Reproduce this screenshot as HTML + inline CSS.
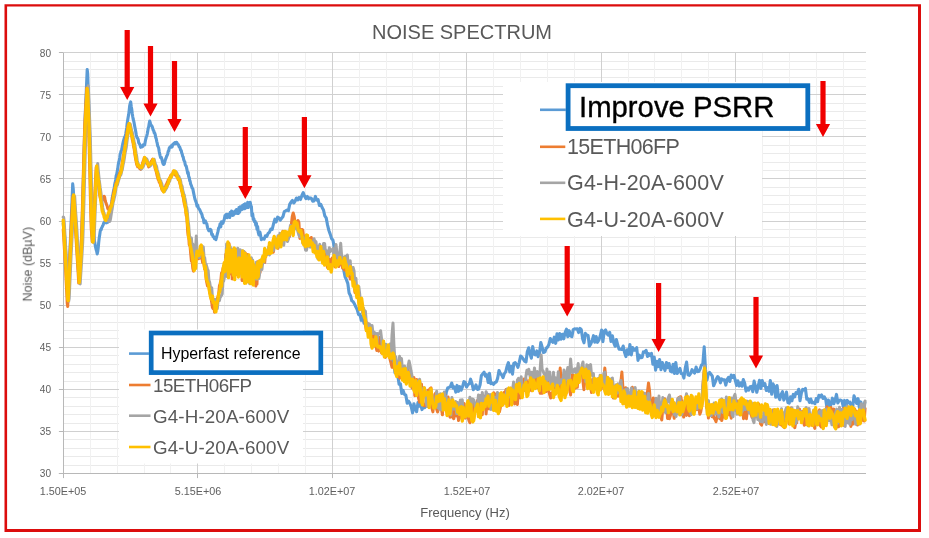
<!DOCTYPE html>
<html><head><meta charset="utf-8"><title>Noise Spectrum</title>
<style>
html,body{margin:0;padding:0;background:#fff;}
body{width:929px;height:538px;position:relative;overflow:hidden;font-family:"Liberation Sans",sans-serif;color:#595959;}
.frame{position:absolute;left:4.5px;top:4.3px;width:911.5px;height:522.5px;border:2.6px solid #e41a1c;box-sizing:content-box;}
.t{position:absolute;white-space:nowrap;line-height:1;will-change:transform;}
.yl{font-size:10.1px;width:20px;text-align:right;left:31px;color:#606060;}
.xl{font-size:10.8px;width:80px;text-align:center;top:485.6px;color:#606060;}
.lg1{font-size:21.5px;left:567.4px;color:#595959;}
.lg2{font-size:18.8px;left:153px;color:#595959;}
.box{position:absolute;box-sizing:border-box;border:4.2px solid #0b6fc0;background:#fff;color:#000;}
</style></head><body>
<svg width="929" height="538" viewBox="0 0 929 538" style="position:absolute;left:0;top:0">
<path d="M4.5 4.2H921V532H4.5ZM7.1 6.6V529H918V6.6Z" fill="#dc0d0d" fill-rule="evenodd"/>
<path d="M63.4 61.50H866.0M63.4 69.50H866.0M63.4 77.50H866.0M63.4 86.50H866.0M63.4 103.50H866.0M63.4 111.50H866.0M63.4 120.50H866.0M63.4 128.50H866.0M63.4 145.50H866.0M63.4 153.50H866.0M63.4 162.50H866.0M63.4 170.50H866.0M63.4 187.50H866.0M63.4 195.50H866.0M63.4 204.50H866.0M63.4 212.50H866.0M63.4 229.50H866.0M63.4 237.50H866.0M63.4 246.50H866.0M63.4 254.50H866.0M63.4 271.50H866.0M63.4 279.50H866.0M63.4 288.50H866.0M63.4 296.50H866.0M63.4 313.50H866.0M63.4 322.50H866.0M63.4 330.50H866.0M63.4 338.50H866.0M63.4 355.50H866.0M63.4 364.50H866.0M63.4 372.50H866.0M63.4 381.50H866.0M63.4 397.50H866.0M63.4 406.50H866.0M63.4 414.50H866.0M63.4 423.50H866.0M63.4 439.50H866.0M63.4 448.50H866.0M63.4 456.50H866.0M63.4 465.50H866.0" stroke="#eaeaea" stroke-width="1" fill="none"/>
<path d="M90.50 52.7V473.6M117.50 52.7V473.6M144.50 52.7V473.6M170.50 52.7V473.6M224.50 52.7V473.6M251.50 52.7V473.6M278.50 52.7V473.6M305.50 52.7V473.6M359.50 52.7V473.6M386.50 52.7V473.6M412.50 52.7V473.6M439.50 52.7V473.6M493.50 52.7V473.6M520.50 52.7V473.6M547.50 52.7V473.6M574.50 52.7V473.6M628.50 52.7V473.6M654.50 52.7V473.6M681.50 52.7V473.6M708.50 52.7V473.6M762.50 52.7V473.6M789.50 52.7V473.6M816.50 52.7V473.6M843.50 52.7V473.6" stroke="#f1f1f1" stroke-width="1" fill="none"/>
<path d="M63.4 52.50H866.0M63.4 94.50H866.0M63.4 136.50H866.0M63.4 178.50H866.0M63.4 221.50H866.0M63.4 263.50H866.0M63.4 305.50H866.0M63.4 347.50H866.0M63.4 389.50H866.0M63.4 431.50H866.0M197.50 52.7V473.6M332.50 52.7V473.6M466.50 52.7V473.6M601.50 52.7V473.6M735.50 52.7V473.6" stroke="#d0d0d0" stroke-width="1" fill="none"/>
<path d="M63.5 52.7V478.1M58.9 473.5H866.0M58.9 52.50H63.4M58.9 94.50H63.4M58.9 136.50H63.4M58.9 178.50H63.4M58.9 221.50H63.4M58.9 263.50H63.4M58.9 305.50H63.4M58.9 347.50H63.4M58.9 389.50H63.4M58.9 431.50H63.4M58.9 473.50H63.4M197.50 473.6V478.1M332.50 473.6V478.1M466.50 473.6V478.1M601.50 473.6V478.1M735.50 473.6V478.1" stroke="#b8b8b8" stroke-width="1" fill="none"/>
<path d="M63.2 223.6 L63.7 228.6 L64.2 232.1 L64.7 236.9 L65.2 243.4 L65.7 253.3 L66.2 263.4 L66.7 273.7 L67.2 283.8 L67.7 294.0 L68.2 294.9 L68.7 282.8 L69.2 269.6 L69.7 258.0 L70.2 244.5 L70.7 233.2 L71.2 220.7 L71.7 208.8 L72.2 196.0 L72.7 183.8 L73.2 188.4 L73.7 196.3 L74.2 202.8 L74.7 210.8 L75.2 218.9 L75.7 227.1 L76.2 233.9 L76.7 241.8 L77.2 250.1 L77.7 259.4 L78.2 266.4 L78.7 274.9 L79.2 277.4 L79.7 268.5 L80.2 260.3 L80.7 251.4 L81.2 243.6 L81.7 235.6 L82.2 221.9 L82.7 204.6 L83.2 186.9 L83.7 168.2 L84.2 149.0 L84.7 131.4 L85.2 114.9 L85.7 103.9 L86.2 93.4 L86.7 81.1 L87.2 69.6 L87.7 74.0 L88.2 89.1 L88.7 105.6 L89.2 120.3 L89.7 136.7 L90.2 155.1 L90.7 172.4 L91.2 191.2 L91.7 208.6 L92.2 221.7 L92.7 226.2 L93.2 229.4 L93.7 233.9 L94.2 238.6 L94.7 242.4 L95.2 245.0 L95.7 247.6 L96.2 249.8 L96.7 251.4 L97.2 254.0 L97.7 251.7 L98.2 248.0 L98.7 242.5 L99.2 238.1 L99.7 235.0 L100.2 231.4 L100.7 229.6 L101.2 229.7 L101.7 227.6 L102.2 226.9 L102.7 225.7 L103.2 224.8 L103.7 223.1 L104.2 222.5 L104.7 221.8 L105.2 221.6 L105.7 222.6 L106.2 222.0 L106.7 222.8 L107.2 222.4 L107.7 222.3 L108.2 220.2 L108.7 218.9 L109.2 215.4 L109.7 212.8 L110.2 209.8 L110.7 206.7 L111.2 205.1 L111.7 201.9 L112.2 198.0 L112.7 196.0 L113.2 192.8 L113.7 190.2 L114.2 188.0 L114.7 184.3 L115.2 182.5 L115.7 179.4 L116.2 175.5 L116.7 174.3 L117.2 171.4 L117.7 169.2 L118.2 165.0 L118.7 162.0 L119.2 160.8 L119.7 157.8 L120.2 153.9 L120.7 152.5 L121.2 150.8 L121.7 149.4 L122.2 147.2 L122.7 144.2 L123.2 142.0 L123.7 140.1 L124.2 138.3 L124.7 136.9 L125.2 136.3 L125.7 134.0 L126.2 130.9 L126.7 127.9 L127.2 123.2 L127.7 119.9 L128.2 117.0 L128.7 114.4 L129.2 110.2 L129.7 105.7 L130.2 103.5 L130.7 101.9 L131.2 106.3 L131.7 109.0 L132.2 113.2 L132.7 116.5 L133.2 119.3 L133.7 121.0 L134.2 123.4 L134.7 126.2 L135.2 128.7 L135.7 131.4 L136.2 134.3 L136.7 136.7 L137.2 138.0 L137.7 138.3 L138.2 139.6 L138.7 142.7 L139.2 143.6 L139.7 144.2 L140.2 145.6 L140.7 147.3 L141.2 146.0 L141.7 146.2 L142.2 146.8 L142.7 146.3 L143.2 144.7 L143.7 144.7 L144.2 144.6 L144.7 144.8 L145.2 141.8 L145.7 139.3 L146.2 137.3 L146.7 136.0 L147.2 134.1 L147.7 131.4 L148.2 128.2 L148.7 126.8 L149.2 123.5 L149.7 121.1 L150.2 122.6 L150.7 124.3 L151.2 125.4 L151.7 125.8 L152.2 126.6 L152.7 128.3 L153.2 130.2 L153.7 130.7 L154.2 132.9 L154.7 132.9 L155.2 134.4 L155.7 137.5 L156.2 138.5 L156.7 141.3 L157.2 143.2 L157.7 146.0 L158.2 146.8 L158.7 148.2 L159.2 151.5 L159.7 153.8 L160.2 156.1 L160.7 157.8 L161.2 157.2 L161.7 158.6 L162.2 160.6 L162.7 162.7 L163.2 164.1 L163.7 164.5 L164.2 164.2 L164.7 162.2 L165.2 160.2 L165.7 158.8 L166.2 157.6 L166.7 156.0 L167.2 155.3 L167.7 153.9 L168.2 151.3 L168.7 150.9 L169.2 148.3 L169.7 147.4 L170.2 146.9 L170.7 147.2 L171.2 145.8 L171.7 147.1 L172.2 146.6 L172.7 144.4 L173.2 144.0 L173.7 143.9 L174.2 143.0 L174.7 144.0 L175.2 142.7 L175.7 143.4 L176.2 142.4 L176.7 142.4 L177.2 143.2 L177.7 144.3 L178.2 144.4 L178.7 145.5 L179.2 147.0 L179.7 147.0 L180.2 148.5 L180.7 150.2 L181.2 150.4 L181.7 152.9 L182.2 154.1 L182.7 156.4 L183.2 157.0 L183.7 159.7 L184.2 160.9 L184.7 161.6 L185.2 164.4 L185.7 165.8 L186.2 166.0 L186.7 168.4 L187.2 170.8 L187.7 173.4 L188.2 172.3 L188.7 176.9 L189.2 177.1 L189.7 180.8 L190.0 180.8 L190.7 184.1 L191.4 185.6 L192.1 188.0 L192.8 188.8 L193.5 192.4 L194.2 195.8 L194.9 199.0 L195.6 200.9 L196.3 202.8 L197.0 206.1 L197.7 205.0 L198.4 208.1 L199.1 208.8 L199.8 209.9 L200.5 211.6 L201.2 213.2 L201.9 214.3 L202.6 217.6 L203.3 218.4 L204.0 222.7 L204.7 222.6 L205.4 220.9 L206.1 222.9 L206.8 223.7 L207.5 227.4 L208.2 229.4 L208.9 230.8 L209.6 230.6 L210.3 229.4 L211.0 230.0 L211.7 234.5 L212.4 234.3 L213.1 236.7 L213.8 236.8 L214.5 238.6 L215.2 238.7 L215.9 239.7 L216.6 236.8 L217.3 234.2 L218.0 231.4 L218.7 227.8 L219.4 227.4 L220.1 223.9 L220.8 226.9 L221.5 221.7 L222.2 223.6 L222.9 223.3 L223.6 221.2 L224.3 219.2 L225.0 215.6 L225.7 215.8 L226.0 214.8 L226.6 214.3 L227.2 217.7 L227.9 214.4 L228.5 216.0 L229.1 214.0 L229.7 217.5 L230.3 212.2 L231.0 215.2 L231.6 211.0 L232.2 215.4 L232.8 211.8 L233.4 215.3 L234.1 211.8 L234.7 213.8 L235.3 210.8 L235.9 212.9 L236.5 209.5 L237.2 213.4 L237.8 210.0 L238.4 213.4 L239.0 207.5 L239.6 212.1 L240.3 206.7 L240.9 209.3 L241.5 206.6 L242.1 209.6 L242.7 205.3 L243.4 208.8 L244.0 204.5 L244.6 208.7 L245.2 203.7 L245.8 207.8 L246.5 204.4 L247.1 207.6 L247.7 202.3 L248.3 207.5 L248.9 203.1 L249.6 204.9 L250.2 202.2 L250.8 205.6 L251.4 206.5 L252.0 216.0 L252.7 213.8 L253.3 219.5 L253.9 218.7 L254.5 221.8 L255.1 221.1 L255.8 225.2 L256.4 223.2 L257.0 229.4 L257.6 226.5 L258.2 232.1 L258.9 234.8 L259.5 232.5 L260.0 232.2 L261.4 239.7 L262.7 238.5 L264.1 239.2 L265.4 235.8 L266.8 236.4 L268.1 233.4 L269.5 232.2 L270.8 229.1 L272.2 229.4 L273.5 224.0 L274.9 219.2 L276.2 221.9 L277.6 217.2 L278.9 217.8 L280.3 220.1 L281.6 218.4 L283.0 216.5 L284.3 211.6 L285.7 210.8 L287.0 210.0 L288.4 210.7 L289.7 204.4 L291.1 202.1 L292.4 200.5 L293.8 203.0 L295.1 201.1 L296.5 198.0 L297.8 199.9 L299.2 197.5 L300.5 199.5 L301.9 195.5 L303.2 192.6 L304.6 196.2 L305.9 198.6 L307.3 196.5 L308.6 198.8 L310.0 197.9 L311.3 198.3 L312.7 201.2 L314.0 200.9 L315.4 196.4 L316.7 200.1 L318.1 199.7 L319.4 205.5 L320.8 204.3 L322.1 207.5 L323.5 210.0 L324.8 215.8 L326.2 217.9 L327.5 224.9 L328.9 230.5 L330.2 234.1 L331.6 238.6 L332.9 240.0 L334.3 247.4 L335.6 249.9 L337.0 256.8 L338.3 259.8 L339.7 260.2 L341.0 262.9 L342.4 265.9 L343.7 269.7 L345.1 276.9 L346.4 279.6 L347.8 283.4 L349.1 293.0 L350.5 295.7 L351.8 300.8 L353.2 301.7 L354.5 304.1 L355.9 307.0 L357.2 309.7 L358.6 314.7 L359.9 314.4 L361.3 320.3 L362.6 316.1 L364.0 323.3 L365.3 321.0 L366.7 327.0 L368.0 325.3 L369.4 332.0 L370.7 330.9 L372.1 341.2 L373.4 343.2 L374.8 343.6 L376.1 345.7 L377.5 340.3 L378.8 340.5 L380.2 341.5 L381.5 344.1 L382.9 345.9 L384.2 345.8 L385.6 344.4 L386.9 348.3 L388.3 354.0 L389.6 353.5 L391.0 355.6 L392.3 358.8 L393.7 362.4 L395.0 372.8 L396.4 371.1 L397.7 375.1 L399.1 384.3 L400.4 383.8 L401.8 393.5 L403.1 390.4 L404.5 394.6 L405.8 395.0 L407.2 403.3 L408.5 401.0 L409.9 403.4 L411.2 406.6 L412.6 412.9 L413.9 403.7 L415.3 409.3 L416.6 411.7 L418.0 402.5 L419.3 406.2 L420.7 404.3 L422.0 409.6 L423.4 406.8 L424.7 407.6 L426.1 404.8 L427.4 406.0 L428.8 402.1 L430.1 398.0 L431.5 403.4 L432.8 400.7 L434.2 402.2 L435.5 406.6 L436.9 401.1 L438.2 397.7 L439.6 398.2 L440.9 404.1 L442.3 404.0 L443.6 401.9 L445.0 401.6 L446.3 392.2 L447.7 388.0 L449.0 387.4 L450.4 386.6 L451.7 383.0 L453.1 388.0 L454.4 386.9 L455.8 392.1 L457.1 385.4 L458.5 391.3 L459.8 386.7 L461.2 390.2 L462.5 386.8 L463.9 381.7 L465.2 382.2 L466.6 387.0 L467.9 384.7 L469.3 383.8 L470.6 379.2 L472.0 383.5 L473.3 389.7 L474.7 388.2 L476.0 384.9 L477.4 389.4 L478.7 389.0 L480.1 384.7 L481.4 375.4 L482.8 373.8 L484.1 372.2 L485.5 376.2 L486.8 374.7 L488.2 382.5 L489.5 373.4 L490.9 383.7 L492.2 383.0 L493.6 384.3 L494.9 382.5 L496.3 382.0 L497.6 378.4 L499.0 370.5 L500.3 373.3 L501.7 374.9 L503.0 377.7 L504.4 373.6 L505.7 371.9 L507.1 366.2 L508.4 362.6 L509.8 372.0 L511.1 366.2 L512.5 374.1 L513.8 363.3 L515.2 362.6 L516.5 364.4 L517.9 367.3 L519.2 362.6 L520.6 356.0 L521.9 357.0 L523.3 359.1 L524.6 361.1 L526.0 362.0 L527.3 351.8 L528.7 347.8 L530.0 353.7 L531.4 358.2 L532.7 346.6 L534.1 354.1 L535.4 354.9 L536.8 350.9 L538.1 356.7 L539.5 353.1 L540.8 342.5 L542.2 347.3 L543.5 352.5 L544.9 351.9 L546.2 348.2 L547.6 347.0 L548.9 344.5 L550.3 338.6 L551.6 341.0 L553.0 342.3 L554.3 337.2 L555.7 343.3 L557.0 333.8 L558.4 340.0 L559.7 333.6 L561.1 339.2 L562.4 334.3 L563.8 338.8 L565.1 332.5 L566.5 329.2 L567.8 336.7 L569.2 330.7 L570.5 335.9 L571.9 336.7 L573.2 329.6 L574.6 328.9 L575.9 329.0 L577.3 328.7 L578.6 332.6 L580.0 328.4 L581.3 329.7 L582.7 338.9 L584.0 342.8 L585.4 333.4 L586.7 334.9 L588.1 335.4 L589.4 346.2 L590.8 343.9 L592.1 340.6 L593.5 335.7 L594.8 342.2 L596.2 336.6 L597.5 342.3 L598.9 339.9 L600.2 336.0 L601.6 330.0 L602.9 341.6 L604.3 331.1 L605.6 330.0 L607.0 333.8 L608.3 335.0 L609.7 332.3 L611.0 341.5 L612.4 335.8 L613.7 342.6 L615.1 346.2 L616.4 339.6 L617.8 345.3 L619.1 349.3 L620.5 349.2 L621.8 349.5 L623.2 346.0 L624.5 352.3 L625.9 356.6 L627.2 349.8 L628.6 354.4 L629.9 344.5 L631.3 354.9 L632.6 347.5 L634.0 350.3 L635.3 350.1 L636.7 347.7 L638.0 360.4 L639.4 355.2 L640.7 357.7 L642.1 357.4 L643.4 351.9 L644.8 352.2 L646.1 350.3 L647.5 356.5 L648.8 353.7 L650.2 355.6 L651.5 353.4 L652.9 364.3 L654.2 357.0 L655.6 370.1 L656.9 361.2 L658.3 366.6 L659.6 359.6 L661.0 369.7 L662.3 362.6 L663.7 366.7 L665.0 370.6 L666.4 362.6 L667.7 367.6 L669.1 363.5 L670.4 371.1 L671.8 371.9 L673.1 364.2 L674.5 373.4 L675.8 362.5 L677.2 373.5 L678.5 370.9 L679.9 368.4 L681.2 373.5 L682.6 373.8 L683.9 378.1 L685.3 367.9 L686.6 362.1 L688.0 374.9 L689.3 375.4 L690.7 373.4 L692.0 369.7 L693.4 371.8 L694.7 373.0 L696.1 367.0 L697.4 371.6 L698.8 371.5 L700.1 369.0 L701.5 365.1 L702.8 364.2 L704.2 346.9 L705.5 369.4 L706.9 380.3 L708.2 374.2 L709.6 372.4 L710.9 374.1 L712.3 376.2 L713.6 385.8 L715.0 382.7 L716.3 379.1 L717.7 376.6 L719.0 378.1 L720.4 382.8 L721.7 378.9 L723.1 380.0 L724.4 379.7 L725.8 385.1 L727.1 379.6 L728.5 377.3 L729.8 381.5 L731.2 375.1 L732.5 377.5 L733.9 375.3 L735.2 380.0 L736.6 385.4 L737.9 380.8 L739.3 386.0 L740.6 382.8 L742.0 386.2 L743.3 379.6 L744.7 383.3 L746.0 391.1 L747.4 388.0 L748.7 390.1 L750.1 386.8 L751.4 386.4 L752.8 391.7 L754.1 381.1 L755.5 386.4 L756.8 392.3 L758.2 386.4 L759.5 380.2 L760.9 388.5 L762.2 380.5 L763.6 385.5 L764.9 383.6 L766.3 390.5 L767.6 387.7 L769.0 391.3 L770.3 380.5 L771.7 394.3 L773.0 383.8 L774.4 386.7 L775.7 397.3 L777.1 385.6 L778.4 396.7 L779.8 399.6 L781.1 394.5 L782.5 391.7 L783.8 400.1 L785.2 397.2 L786.5 392.1 L787.9 402.5 L789.2 403.1 L790.6 396.7 L791.9 400.8 L793.3 394.4 L794.6 396.9 L796.0 392.6 L797.3 393.3 L798.7 389.3 L800.0 400.7 L801.4 392.9 L802.7 389.4 L804.1 389.9 L805.4 388.5 L806.8 399.2 L808.1 398.9 L809.5 402.5 L810.8 399.0 L812.2 402.9 L813.5 402.3 L814.9 403.6 L816.2 398.6 L817.6 401.6 L818.9 395.3 L820.3 396.8 L821.6 395.0 L823.0 398.5 L824.3 396.8 L825.7 399.2 L827.0 408.3 L828.4 400.1 L829.7 408.6 L831.1 403.7 L832.4 398.2 L833.8 403.7 L835.1 400.1 L836.5 394.4 L837.8 403.0 L839.2 400.2 L840.5 400.0 L841.9 400.8 L843.2 406.3 L844.6 400.4 L845.9 407.3 L847.3 400.4 L848.6 402.8 L850.0 402.1 L851.3 406.9 L852.7 407.2 L854.0 395.9 L855.4 399.2 L856.7 403.5 L858.1 398.7 L859.4 407.7 L860.8 401.9 L862.1 407.3 L863.5 408.9 L864.8 402.4" stroke="#5b9bd5" stroke-width="3.1" fill="none" stroke-linejoin="round" stroke-linecap="round"/>
<path d="M63.2 229.4 L63.7 237.0 L64.2 245.8 L64.7 254.1 L65.2 263.2 L65.7 271.6 L66.2 282.6 L66.7 292.2 L67.2 303.3 L67.7 306.4 L68.2 297.6 L68.7 285.9 L69.2 273.7 L69.7 261.7 L70.2 249.0 L70.7 238.0 L71.2 226.4 L71.7 217.3 L72.2 207.1 L72.7 198.9 L73.2 195.5 L73.7 203.7 L74.2 211.1 L74.7 218.7 L75.2 225.1 L75.7 232.5 L76.2 241.5 L76.7 249.1 L77.2 258.1 L77.7 265.9 L78.2 274.2 L78.7 283.1 L79.2 277.6 L79.7 268.7 L80.2 260.5 L80.7 253.0 L81.2 244.9 L81.7 232.9 L82.2 214.2 L82.7 196.2 L83.2 177.5 L83.7 159.5 L84.2 141.5 L84.7 125.7 L85.2 116.4 L85.7 107.2 L86.2 98.1 L86.7 87.9 L87.2 92.5 L87.7 105.9 L88.2 119.6 L88.7 131.9 L89.2 148.7 L89.7 169.2 L90.2 190.9 L90.7 211.7 L91.2 228.3 L91.7 234.3 L92.2 241.6 L92.7 240.3 L93.2 229.4 L93.7 216.9 L94.2 205.5 L94.7 195.4 L95.2 185.5 L95.7 175.1 L96.2 167.1 L96.7 170.1 L97.2 174.8 L97.7 178.2 L98.2 183.0 L98.7 187.4 L99.2 191.0 L99.7 195.2 L100.2 197.3 L100.7 199.6 L101.2 200.4 L101.7 201.7 L102.2 200.2 L102.7 199.8 L103.2 197.5 L103.7 196.4 L104.2 196.3 L104.7 197.2 L105.2 200.4 L105.7 202.4 L106.2 203.3 L106.7 205.2 L107.2 206.2 L107.7 208.3 L108.2 209.3 L108.7 209.6 L109.2 210.1 L109.7 209.7 L110.2 207.6 L110.7 205.8 L111.2 205.0 L111.7 203.1 L112.2 200.9 L112.7 198.1 L113.2 195.2 L113.7 192.9 L114.2 190.4 L114.7 188.8 L115.2 187.2 L115.7 185.1 L116.2 182.6 L116.7 182.2 L117.2 180.9 L117.7 179.7 L118.2 177.5 L118.7 175.3 L119.2 174.9 L119.7 172.7 L120.2 172.4 L120.7 171.2 L121.2 168.4 L121.7 166.3 L122.2 162.0 L122.7 160.2 L123.2 156.5 L123.7 154.0 L124.2 151.0 L124.7 148.4 L125.2 145.5 L125.7 140.5 L126.2 137.0 L126.7 134.8 L127.2 130.8 L127.7 128.7 L128.2 125.4 L128.7 124.5 L129.2 126.0 L129.7 127.5 L130.2 130.7 L130.7 132.5 L131.2 133.5 L131.7 135.8 L132.2 139.3 L132.7 141.1 L133.2 143.7 L133.7 146.9 L134.2 149.1 L134.7 153.4 L135.2 156.5 L135.7 159.4 L136.2 161.9 L136.7 164.4 L137.2 165.7 L137.7 166.8 L138.2 165.5 L138.7 165.9 L139.2 167.6 L139.7 168.5 L140.2 167.5 L140.7 169.4 L141.2 168.7 L141.7 166.8 L142.2 164.4 L142.7 162.8 L143.2 161.0 L143.7 160.3 L144.2 157.7 L144.7 158.0 L145.2 160.3 L145.7 161.4 L146.2 162.6 L146.7 163.3 L147.2 162.7 L147.7 163.5 L148.2 165.5 L148.7 166.9 L149.2 166.3 L149.7 165.0 L150.2 164.8 L150.7 162.3 L151.2 161.4 L151.7 160.9 L152.2 159.9 L152.7 159.2 L153.2 159.6 L153.7 161.9 L154.2 163.1 L154.7 165.9 L155.2 168.8 L155.7 169.7 L156.2 171.7 L156.7 173.6 L157.2 176.1 L157.7 177.6 L158.2 179.5 L158.7 179.8 L159.2 182.2 L159.7 182.1 L160.2 183.7 L160.7 185.8 L161.2 186.3 L161.7 188.8 L162.2 190.2 L162.7 190.0 L163.2 191.3 L163.7 190.2 L164.2 190.7 L164.7 188.7 L165.2 187.5 L165.7 186.0 L166.2 184.5 L166.7 184.0 L167.2 182.4 L167.7 181.9 L168.2 180.0 L168.7 179.6 L169.2 179.7 L169.7 177.7 L170.2 177.9 L170.7 175.2 L171.2 175.1 L171.7 174.4 L172.2 174.4 L172.7 173.5 L173.2 171.7 L173.7 171.2 L174.2 172.7 L174.7 173.1 L175.2 174.5 L175.7 175.4 L176.2 175.3 L176.7 176.4 L177.2 176.3 L177.7 177.6 L178.2 179.5 L178.7 179.9 L179.2 180.7 L179.7 182.3 L180.2 184.5 L180.7 186.3 L181.2 188.5 L181.7 190.9 L182.2 192.2 L182.7 196.0 L183.2 197.3 L183.7 200.3 L184.2 203.3 L184.7 205.0 L185.2 207.4 L185.7 210.1 L186.2 215.7 L186.7 216.2 L187.2 223.1 L187.7 231.7 L188.2 236.2 L188.7 236.0 L189.2 244.6 L189.7 245.4 L190.0 245.4 L190.7 253.9 L191.4 261.2 L192.1 260.7 L192.8 268.3 L193.5 271.1 L194.2 268.7 L194.9 264.1 L195.6 256.1 L196.3 250.1 L197.0 255.4 L197.7 254.8 L198.4 258.8 L199.1 253.0 L199.8 254.0 L200.5 258.1 L201.2 254.1 L201.9 257.7 L202.6 262.6 L203.3 260.6 L204.0 264.1 L204.7 269.3 L205.4 271.0 L206.1 278.9 L206.8 282.7 L207.5 285.8 L208.2 284.9 L208.9 285.1 L209.6 292.5 L210.3 294.2 L211.0 298.1 L211.7 302.4 L212.4 307.5 L213.1 308.6 L213.8 303.2 L214.5 312.2 L215.2 309.4 L215.9 302.6 L216.6 303.5 L217.3 298.6 L218.0 296.4 L218.7 293.8 L219.4 285.9 L220.1 283.6 L220.8 280.8 L221.5 273.1 L222.2 275.7 L222.9 268.6 L223.6 266.1 L224.3 269.0 L225.0 267.8 L225.7 254.4 L226.0 256.2 L226.6 251.7 L227.2 275.5 L227.9 253.2 L228.5 269.9 L229.1 243.6 L229.7 263.2 L230.3 249.1 L231.0 274.1 L231.6 255.3 L232.2 279.0 L232.8 255.6 L233.4 272.3 L234.1 251.9 L234.7 272.6 L235.3 249.0 L235.9 274.6 L236.5 254.1 L237.2 271.1 L237.8 249.7 L238.4 272.7 L239.0 260.8 L239.6 269.4 L240.3 252.9 L240.9 271.2 L241.5 256.0 L242.1 280.6 L242.7 262.4 L243.4 270.8 L244.0 251.7 L244.6 282.2 L245.2 252.7 L245.8 274.2 L246.5 261.0 L247.1 275.6 L247.7 254.6 L248.3 272.6 L248.9 260.0 L249.6 274.8 L250.2 263.6 L250.8 272.7 L251.4 262.7 L252.0 273.0 L252.7 262.6 L253.3 282.1 L253.9 265.2 L254.5 277.7 L255.1 268.2 L255.8 286.1 L256.4 268.8 L257.0 284.2 L257.6 261.7 L258.2 273.4 L258.9 267.8 L259.5 269.3 L260.0 272.7 L260.9 264.8 L261.9 263.3 L262.8 260.0 L263.8 262.3 L264.7 262.5 L265.7 251.4 L266.6 254.8 L267.6 253.5 L268.5 248.1 L269.5 253.2 L270.4 251.4 L271.4 247.2 L272.3 247.0 L273.3 252.3 L274.2 247.6 L275.2 246.3 L276.1 241.5 L277.1 246.6 L278.0 248.3 L279.0 239.0 L279.9 237.3 L280.9 242.0 L281.8 236.0 L282.8 231.2 L283.7 233.2 L284.7 239.4 L285.6 236.7 L286.6 236.9 L287.5 237.1 L288.5 233.6 L289.4 236.7 L290.4 231.7 L291.3 224.7 L292.3 216.3 L293.2 213.0 L294.2 216.6 L295.1 222.8 L296.1 222.0 L297.0 222.2 L298.0 220.5 L298.9 222.3 L299.9 238.4 L300.8 234.3 L301.8 229.4 L302.7 229.8 L303.7 237.9 L304.6 242.7 L305.6 247.1 L306.5 243.8 L307.5 239.9 L308.4 245.7 L309.4 238.6 L310.3 240.3 L311.3 237.5 L312.2 246.7 L313.2 246.1 L314.1 245.2 L315.1 242.7 L316.0 253.4 L317.0 248.6 L317.9 257.4 L318.9 249.2 L319.8 255.0 L320.8 258.5 L321.7 250.6 L322.7 250.5 L323.6 260.8 L324.6 251.9 L325.5 257.8 L326.5 252.8 L327.4 267.4 L328.4 268.3 L329.3 259.1 L330.3 268.6 L331.2 268.8 L332.2 257.9 L333.1 258.7 L334.1 264.9 L335.0 266.8 L336.0 260.7 L336.9 256.0 L337.9 261.3 L338.8 266.5 L339.8 263.2 L340.7 257.8 L341.7 259.5 L342.6 268.0 L343.6 264.8 L344.5 270.0 L345.5 261.3 L346.4 269.3 L347.4 273.0 L348.3 276.0 L349.3 268.0 L350.2 279.1 L351.2 276.7 L352.1 272.9 L353.1 270.1 L354.0 283.2 L355.0 292.5 L355.9 289.8 L356.9 287.2 L357.8 290.2 L358.8 296.3 L359.7 308.7 L360.7 303.7 L361.6 305.0 L362.6 310.0 L363.5 308.7 L364.5 312.6 L365.4 325.3 L366.4 330.5 L367.3 323.1 L368.3 325.4 L369.2 334.8 L370.2 333.6 L371.1 329.6 L372.1 340.7 L373.0 343.3 L374.0 338.1 L374.9 333.5 L375.9 346.1 L376.8 350.5 L377.8 348.3 L378.7 351.1 L379.7 337.2 L380.6 347.2 L381.6 352.9 L382.5 344.4 L383.5 341.4 L384.4 356.1 L385.4 357.3 L386.3 350.1 L387.3 354.3 L388.2 349.1 L389.2 351.3 L390.1 359.6 L391.1 363.3 L392.0 367.2 L393.0 364.4 L393.9 367.8 L394.9 357.2 L395.8 367.4 L396.8 375.4 L397.7 376.3 L398.7 375.0 L399.6 378.2 L400.6 370.8 L401.5 368.0 L402.5 375.3 L403.4 376.4 L404.4 366.5 L405.3 370.8 L406.3 378.8 L407.2 370.4 L408.2 370.0 L409.1 377.4 L410.1 374.2 L411.0 380.8 L412.0 388.1 L412.9 386.0 L413.9 377.4 L414.8 395.7 L415.8 385.4 L416.7 379.4 L417.7 388.1 L418.6 398.4 L419.6 402.3 L420.5 387.1 L421.5 384.2 L422.4 400.1 L423.4 403.3 L424.3 405.9 L425.3 404.4 L426.2 405.7 L427.2 405.8 L428.1 390.2 L429.1 391.0 L430.0 388.7 L431.0 387.8 L431.9 408.1 L432.9 411.9 L433.8 403.7 L434.8 394.4 L435.7 393.1 L436.7 409.2 L437.6 412.0 L438.6 405.9 L439.5 408.2 L440.5 406.3 L441.4 408.7 L442.4 414.8 L443.3 404.8 L444.3 396.3 L445.2 395.4 L446.2 407.4 L447.1 397.3 L448.1 397.1 L449.0 413.3 L450.0 417.2 L450.9 401.2 L451.9 401.3 L452.8 417.5 L453.8 418.7 L454.7 413.3 L455.7 409.6 L456.6 415.9 L457.6 410.9 L458.5 420.5 L459.5 417.9 L460.4 414.9 L461.4 403.9 L462.3 414.9 L463.3 404.3 L464.2 403.5 L465.2 418.2 L466.1 414.7 L467.1 414.1 L468.0 417.0 L469.0 420.6 L469.9 422.8 L470.9 404.5 L471.8 400.8 L472.8 400.5 L473.7 418.5 L474.7 411.6 L475.6 406.8 L476.6 410.4 L477.5 400.5 L478.5 404.0 L479.4 402.1 L480.4 409.2 L481.3 399.5 L482.3 414.7 L483.2 397.7 L484.2 396.2 L485.1 397.1 L486.1 414.0 L487.0 401.4 L488.0 408.1 L488.9 408.8 L489.9 402.6 L490.8 399.8 L491.8 408.4 L492.7 396.0 L493.7 392.7 L494.6 400.0 L495.6 399.2 L496.5 393.8 L497.5 393.1 L498.4 401.4 L499.4 411.8 L500.3 408.0 L501.3 396.6 L502.2 398.1 L503.2 404.4 L504.1 392.5 L505.1 392.7 L506.0 389.6 L507.0 396.9 L507.9 399.0 L508.9 405.4 L509.8 388.8 L510.8 388.0 L511.7 390.2 L512.7 392.9 L513.6 390.6 L514.6 404.0 L515.5 392.5 L516.5 401.8 L517.4 404.5 L518.4 390.1 L519.3 384.7 L520.3 397.9 L521.2 382.2 L522.2 381.8 L523.1 382.7 L524.1 379.0 L525.0 390.6 L526.0 379.3 L526.9 382.5 L527.9 388.4 L528.8 391.3 L529.8 380.0 L530.7 386.5 L531.7 390.6 L532.6 377.3 L533.6 383.4 L534.5 382.4 L535.5 376.2 L536.4 385.7 L537.4 376.9 L538.3 388.1 L539.3 386.0 L540.2 393.2 L541.2 386.4 L542.1 393.3 L543.1 384.5 L544.0 386.0 L545.0 389.1 L545.9 391.7 L546.9 384.5 L547.8 378.5 L548.8 391.3 L549.7 394.7 L550.7 398.0 L551.6 393.3 L552.6 396.7 L553.5 384.5 L554.5 386.0 L555.4 387.4 L556.4 386.3 L557.3 386.0 L558.3 392.4 L559.2 382.6 L560.2 368.0 L561.1 381.5 L562.1 392.7 L563.0 394.7 L564.0 392.3 L564.9 382.0 L565.9 394.8 L566.8 382.0 L567.8 381.8 L568.7 386.6 L569.7 389.8 L570.6 395.0 L571.6 379.2 L572.5 374.4 L573.5 384.7 L574.4 385.1 L575.4 388.1 L576.3 377.0 L577.3 387.3 L578.2 373.8 L579.2 372.8 L580.1 373.3 L581.1 371.2 L582.0 369.6 L583.0 381.5 L583.9 389.7 L584.9 379.4 L585.8 372.7 L586.8 375.0 L587.7 374.6 L588.7 384.6 L589.6 384.5 L590.6 384.5 L591.5 392.5 L592.5 379.5 L593.4 385.1 L594.4 381.5 L595.3 388.3 L596.3 381.8 L597.2 390.5 L598.2 380.7 L599.1 387.9 L600.1 379.2 L601.0 389.4 L602.0 386.1 L602.9 380.0 L603.9 378.8 L604.8 368.0 L605.8 378.5 L606.7 392.1 L607.7 388.4 L608.6 388.3 L609.6 393.4 L610.5 390.7 L611.5 380.7 L612.4 379.6 L613.4 398.1 L614.3 391.8 L615.3 394.9 L616.2 389.7 L617.2 389.2 L618.1 396.2 L619.1 389.8 L620.0 384.9 L621.0 380.6 L621.9 372.0 L622.9 387.6 L623.8 403.6 L624.8 399.6 L625.7 387.7 L626.7 393.8 L627.6 404.4 L628.6 400.6 L629.5 395.7 L630.5 394.9 L631.4 391.1 L632.4 387.3 L633.3 398.1 L634.3 402.6 L635.2 394.2 L636.2 401.0 L637.1 398.7 L638.1 392.7 L639.0 400.7 L640.0 408.3 L640.9 405.1 L641.9 400.7 L642.8 392.7 L643.8 396.6 L644.7 404.7 L645.7 407.9 L646.6 401.4 L647.6 390.6 L648.5 383.0 L649.5 390.4 L650.4 402.9 L651.4 408.1 L652.3 407.0 L653.3 397.9 L654.2 400.0 L655.2 399.9 L656.1 407.1 L657.1 402.3 L658.0 413.0 L659.0 401.3 L659.9 406.2 L660.9 416.9 L661.8 420.0 L662.8 407.3 L663.7 403.2 L664.7 398.8 L665.6 412.1 L666.6 401.2 L667.5 418.5 L668.5 406.8 L669.4 418.7 L670.4 415.6 L671.3 408.6 L672.3 405.5 L673.2 412.1 L674.2 418.3 L675.1 405.4 L676.1 411.1 L677.0 407.5 L678.0 398.7 L678.9 397.5 L679.9 397.0 L680.8 396.8 L681.8 402.0 L682.7 412.7 L683.7 417.1 L684.6 406.7 L685.6 412.4 L686.5 415.4 L687.5 402.8 L688.4 408.3 L689.4 415.7 L690.3 408.9 L691.3 410.7 L692.2 398.4 L693.2 402.4 L694.1 401.9 L695.1 410.5 L696.0 398.5 L697.0 409.5 L697.9 406.7 L698.9 408.0 L699.8 414.2 L700.8 411.6 L701.7 406.5 L702.7 389.3 L703.6 375.9 L704.6 367.8 L705.5 383.9 L706.5 407.8 L707.4 405.1 L708.4 418.1 L709.3 405.0 L710.3 413.0 L711.2 405.3 L712.2 416.8 L713.1 411.1 L714.1 418.1 L715.0 419.3 L716.0 421.8 L716.9 417.6 L717.9 414.3 L718.8 411.0 L719.8 418.7 L720.7 412.0 L721.7 420.5 L722.6 417.4 L723.6 413.0 L724.5 406.0 L725.5 406.1 L726.4 402.3 L727.4 414.1 L728.3 413.6 L729.3 414.9 L730.2 409.2 L731.2 418.2 L732.1 403.0 L733.1 403.8 L734.0 406.5 L735.0 398.2 L735.9 410.7 L736.9 403.4 L737.8 401.1 L738.8 408.5 L739.7 414.8 L740.7 399.3 L741.6 407.4 L742.6 407.3 L743.5 418.7 L744.5 408.0 L745.4 401.4 L746.4 418.7 L747.3 411.1 L748.3 410.8 L749.2 412.0 L750.2 406.9 L751.1 414.6 L752.1 417.5 L753.0 416.0 L754.0 415.7 L754.9 412.4 L755.9 416.8 L756.8 405.7 L757.8 410.2 L758.7 404.0 L759.7 414.6 L760.6 423.9 L761.6 425.2 L762.5 421.1 L763.5 416.9 L764.4 421.5 L765.4 411.1 L766.3 410.8 L767.3 411.9 L768.2 414.3 L769.2 423.7 L770.1 423.4 L771.1 417.6 L772.0 417.0 L773.0 409.9 L773.9 412.9 L774.9 419.9 L775.8 425.1 L776.8 420.3 L777.7 421.8 L778.7 423.8 L779.6 421.6 L780.6 424.8 L781.5 422.2 L782.5 425.8 L783.4 426.5 L784.4 427.6 L785.3 424.4 L786.3 408.8 L787.2 417.6 L788.2 409.5 L789.1 424.0 L790.1 418.1 L791.0 407.9 L792.0 413.4 L792.9 423.6 L793.9 425.0 L794.8 427.7 L795.8 421.9 L796.7 422.9 L797.7 410.4 L798.6 412.7 L799.6 409.1 L800.5 418.6 L801.5 417.0 L802.4 411.5 L803.4 421.1 L804.3 425.2 L805.3 412.1 L806.2 424.4 L807.2 414.6 L808.1 423.9 L809.1 421.4 L810.0 418.7 L811.0 416.8 L811.9 425.3 L812.9 420.9 L813.8 424.4 L814.8 428.4 L815.7 412.8 L816.7 412.1 L817.6 419.8 L818.6 411.7 L819.5 409.8 L820.5 425.8 L821.4 427.1 L822.4 427.1 L823.3 414.3 L824.3 417.9 L825.2 417.7 L826.2 408.4 L827.1 406.9 L828.1 409.2 L829.0 414.6 L830.0 410.7 L830.9 407.5 L831.9 414.8 L832.8 423.0 L833.8 409.1 L834.7 418.9 L835.7 414.9 L836.6 427.2 L837.6 424.3 L838.5 426.8 L839.5 425.0 L840.4 421.9 L841.4 409.6 L842.3 415.2 L843.3 408.5 L844.2 425.6 L845.2 421.3 L846.1 411.9 L847.1 412.1 L848.0 413.8 L849.0 420.3 L849.9 413.9 L850.9 426.5 L851.8 414.4 L852.8 424.3 L853.7 419.0 L854.7 409.1 L855.6 412.1 L856.6 411.4 L857.5 425.1 L858.5 415.1 L859.4 417.7 L860.4 412.0 L861.3 421.0 L862.3 414.9 L863.2 414.3 L864.2 421.1 L865.1 408.4" stroke="#ed7d31" stroke-width="3.0" fill="none" stroke-linejoin="round" stroke-linecap="round"/>
<path d="M63.2 217.1 L63.7 217.4 L64.2 221.7 L64.7 230.2 L65.2 239.1 L65.7 247.4 L66.2 255.0 L66.7 264.1 L67.2 273.0 L67.7 282.8 L68.2 291.4 L68.7 301.1 L69.2 298.5 L69.7 286.7 L70.2 276.0 L70.7 264.7 L71.2 253.4 L71.7 244.6 L72.2 234.5 L72.7 225.1 L73.2 215.2 L73.7 206.3 L74.2 196.3 L74.7 196.4 L75.2 204.5 L75.7 212.5 L76.2 219.2 L76.7 226.5 L77.2 234.6 L77.7 243.8 L78.2 252.2 L78.7 259.9 L79.2 268.4 L79.7 276.5 L80.2 283.9 L80.7 275.1 L81.2 267.9 L81.7 259.7 L82.2 251.2 L82.7 242.7 L83.2 228.8 L83.7 210.6 L84.2 191.9 L84.7 173.6 L85.2 155.5 L85.7 137.9 L86.2 124.6 L86.7 114.5 L87.2 104.9 L87.7 95.7 L88.2 85.8 L88.7 94.5 L89.2 108.2 L89.7 120.8 L90.2 134.6 L90.7 152.5 L91.2 174.3 L91.7 195.7 L92.2 216.9 L92.7 229.4 L93.2 235.5 L93.7 242.6 L94.2 237.2 L94.7 224.5 L95.2 211.1 L95.7 199.0 L96.2 186.5 L96.7 175.5 L97.2 167.8 L97.7 163.4 L98.2 169.5 L98.7 174.9 L99.2 179.9 L99.7 183.4 L100.2 187.7 L100.7 190.9 L101.2 194.9 L101.7 199.3 L102.2 203.4 L102.7 207.5 L103.2 210.1 L103.7 212.5 L104.2 213.5 L104.7 216.4 L105.2 217.7 L105.7 218.9 L106.2 220.8 L106.7 219.9 L107.2 220.4 L107.7 220.7 L108.2 220.8 L108.7 220.6 L109.2 221.5 L109.7 221.5 L110.2 220.3 L110.7 217.9 L111.2 214.6 L111.7 211.2 L112.2 208.6 L112.7 205.2 L113.2 202.1 L113.7 200.6 L114.2 198.3 L114.7 196.2 L115.2 193.4 L115.7 190.3 L116.2 186.7 L116.7 185.7 L117.2 185.3 L117.7 183.7 L118.2 181.7 L118.7 180.1 L119.2 178.2 L119.7 176.6 L120.2 175.0 L120.7 175.2 L121.2 173.5 L121.7 171.0 L122.2 170.0 L122.7 166.9 L123.2 164.2 L123.7 162.2 L124.2 159.2 L124.7 155.9 L125.2 152.4 L125.7 150.1 L126.2 147.8 L126.7 143.8 L127.2 139.7 L127.7 136.4 L128.2 133.2 L128.7 131.8 L129.2 128.1 L129.7 125.4 L130.2 124.0 L130.7 125.9 L131.2 128.6 L131.7 131.1 L132.2 132.2 L132.7 133.9 L133.2 137.8 L133.7 139.3 L134.2 142.5 L134.7 143.8 L135.2 147.1 L135.7 150.7 L136.2 153.8 L136.7 156.4 L137.2 160.3 L137.7 162.5 L138.2 164.3 L138.7 165.1 L139.2 166.6 L139.7 165.7 L140.2 167.6 L140.7 168.1 L141.2 169.0 L141.7 168.3 L142.2 168.2 L142.7 167.0 L143.2 166.6 L143.7 165.4 L144.2 163.2 L144.7 161.0 L145.2 158.8 L145.7 158.3 L146.2 159.5 L146.7 158.9 L147.2 159.9 L147.7 162.3 L148.2 163.5 L148.7 163.4 L149.2 164.2 L149.7 165.5 L150.2 166.0 L150.7 164.3 L151.2 165.0 L151.7 163.7 L152.2 163.4 L152.7 161.5 L153.2 162.1 L153.7 161.1 L154.2 159.3 L154.7 161.8 L155.2 163.3 L155.7 165.4 L156.2 165.5 L156.7 167.0 L157.2 170.4 L157.7 171.4 L158.2 173.6 L158.7 174.7 L159.2 178.3 L159.7 179.1 L160.2 181.0 L160.7 180.7 L161.2 182.7 L161.7 183.2 L162.2 186.3 L162.7 186.9 L163.2 187.2 L163.7 188.4 L164.2 190.8 L164.7 191.2 L165.2 190.2 L165.7 189.6 L166.2 188.6 L166.7 187.7 L167.2 186.6 L167.7 184.9 L168.2 184.2 L168.7 182.1 L169.2 181.0 L169.7 181.1 L170.2 178.7 L170.7 177.8 L171.2 176.9 L171.7 176.6 L172.2 174.7 L172.7 173.7 L173.2 173.8 L173.7 172.3 L174.2 172.5 L174.7 172.1 L175.2 171.1 L175.7 172.2 L176.2 172.4 L176.7 172.4 L177.2 174.1 L177.7 174.9 L178.2 176.4 L178.7 176.3 L179.2 177.2 L179.7 179.6 L180.2 179.4 L180.7 181.3 L181.2 184.6 L181.7 185.3 L182.2 186.8 L182.7 190.1 L183.2 191.9 L183.7 194.1 L184.2 194.7 L184.7 197.6 L185.2 199.4 L185.7 202.5 L186.2 206.9 L186.7 207.4 L187.2 210.6 L187.7 217.1 L188.2 222.0 L188.7 225.3 L189.2 232.8 L189.7 237.4 L190.0 238.1 L190.7 240.0 L191.4 238.0 L192.1 247.3 L192.8 243.9 L193.5 254.9 L194.2 257.8 L194.9 257.7 L195.6 248.4 L196.3 236.0 L197.0 250.5 L197.7 254.9 L198.4 254.4 L199.1 257.5 L199.8 257.0 L200.5 248.0 L201.2 245.5 L201.9 250.3 L202.6 247.3 L203.3 246.9 L204.0 256.6 L204.7 257.7 L205.4 263.6 L206.1 264.2 L206.8 267.0 L207.5 269.0 L208.2 270.8 L208.9 280.4 L209.6 282.1 L210.3 286.5 L211.0 291.1 L211.7 287.6 L212.4 297.1 L213.1 300.7 L213.8 300.2 L214.5 302.4 L215.2 299.4 L215.9 307.6 L216.6 304.1 L217.3 308.6 L218.0 301.8 L218.7 297.8 L219.4 300.6 L220.1 297.4 L220.8 296.5 L221.5 295.3 L222.2 293.8 L222.9 280.4 L223.6 281.1 L224.3 277.6 L225.0 275.6 L225.7 270.3 L226.0 261.2 L226.6 243.9 L227.2 276.7 L227.9 243.3 L228.5 268.1 L229.1 247.2 L229.7 263.6 L230.3 246.7 L231.0 267.6 L231.6 249.1 L232.2 268.4 L232.8 252.1 L233.4 271.5 L234.1 251.1 L234.7 269.9 L235.3 257.5 L235.9 274.0 L236.5 250.2 L237.2 271.7 L237.8 248.3 L238.4 273.1 L239.0 256.6 L239.6 272.7 L240.3 249.7 L240.9 271.8 L241.5 254.8 L242.1 275.7 L242.7 250.8 L243.4 269.2 L244.0 251.5 L244.6 274.1 L245.2 254.4 L245.8 272.5 L246.5 256.3 L247.1 274.8 L247.7 263.4 L248.3 273.1 L248.9 264.2 L249.6 283.7 L250.2 261.4 L250.8 276.0 L251.4 257.7 L252.0 279.4 L252.7 260.0 L253.3 276.5 L253.9 266.3 L254.5 275.1 L255.1 265.2 L255.8 279.1 L256.4 262.3 L257.0 279.3 L257.6 264.7 L258.2 273.7 L258.9 278.6 L259.5 274.9 L260.0 268.4 L260.9 260.0 L261.9 269.5 L262.8 261.6 L263.8 262.3 L264.7 254.4 L265.7 254.0 L266.6 253.5 L267.6 254.1 L268.5 247.1 L269.5 254.9 L270.4 246.7 L271.4 251.1 L272.3 250.6 L273.3 250.6 L274.2 242.8 L275.2 240.4 L276.1 246.6 L277.1 241.1 L278.0 235.8 L279.0 246.8 L279.9 233.3 L280.9 245.0 L281.8 236.4 L282.8 236.0 L283.7 245.2 L284.7 237.0 L285.6 239.8 L286.6 234.7 L287.5 241.6 L288.5 238.7 L289.4 233.6 L290.4 225.5 L291.3 228.2 L292.3 230.0 L293.2 226.2 L294.2 229.5 L295.1 224.2 L296.1 227.8 L297.0 228.5 L298.0 231.8 L298.9 235.1 L299.9 236.7 L300.8 233.2 L301.8 234.6 L302.7 243.2 L303.7 237.4 L304.6 244.2 L305.6 250.2 L306.5 250.3 L307.5 244.4 L308.4 239.8 L309.4 244.9 L310.3 247.1 L311.3 245.2 L312.2 242.2 L313.2 244.1 L314.1 238.8 L315.1 242.6 L316.0 241.7 L317.0 251.4 L317.9 258.8 L318.9 247.3 L319.8 244.4 L320.8 255.7 L321.7 250.3 L322.7 251.5 L323.6 243.4 L324.6 243.5 L325.5 251.7 L326.5 250.7 L327.4 254.2 L328.4 256.7 L329.3 247.7 L330.3 251.7 L331.2 249.8 L332.2 250.4 L333.1 248.5 L334.1 258.2 L335.0 253.6 L336.0 244.4 L336.9 252.7 L337.9 258.5 L338.8 258.1 L339.8 252.4 L340.7 243.3 L341.7 257.0 L342.6 262.5 L343.6 261.1 L344.5 256.7 L345.5 256.4 L346.4 264.0 L347.4 255.1 L348.3 267.3 L349.3 266.4 L350.2 260.7 L351.2 274.8 L352.1 270.9 L353.1 267.5 L354.0 270.6 L355.0 285.9 L355.9 278.2 L356.9 290.7 L357.8 295.8 L358.8 286.4 L359.7 294.2 L360.7 304.5 L361.6 303.5 L362.6 313.0 L363.5 308.3 L364.5 315.0 L365.4 311.1 L366.4 324.4 L367.3 328.6 L368.3 326.4 L369.2 323.8 L370.2 325.6 L371.1 332.1 L372.1 325.6 L373.0 333.5 L374.0 332.0 L374.9 333.1 L375.9 333.5 L376.8 344.2 L377.8 333.6 L378.7 333.8 L379.7 333.1 L380.6 330.7 L381.6 339.1 L382.5 349.3 L383.5 352.9 L384.4 346.1 L385.4 344.8 L386.3 354.6 L387.3 350.3 L388.2 351.0 L389.2 354.2 L390.1 344.0 L391.1 359.1 L392.0 335.1 L393.0 323.0 L393.9 344.3 L394.9 360.6 L395.8 356.7 L396.8 365.3 L397.7 371.4 L398.7 367.5 L399.6 356.3 L400.6 373.1 L401.5 358.6 L402.5 371.6 L403.4 379.4 L404.4 366.0 L405.3 372.8 L406.3 378.6 L407.2 369.3 L408.2 365.7 L409.1 361.0 L410.1 365.7 L411.0 370.9 L412.0 375.7 L412.9 387.1 L413.9 388.7 L414.8 391.4 L415.8 390.5 L416.7 393.8 L417.7 381.3 L418.6 388.7 L419.6 379.2 L420.5 388.4 L421.5 397.9 L422.4 392.1 L423.4 388.1 L424.3 387.7 L425.3 390.8 L426.2 402.9 L427.2 406.2 L428.1 402.3 L429.1 407.1 L430.0 403.3 L431.0 393.0 L431.9 394.9 L432.9 401.6 L433.8 402.7 L434.8 402.5 L435.7 398.7 L436.7 391.2 L437.6 407.7 L438.6 394.8 L439.5 409.3 L440.5 393.7 L441.4 409.7 L442.4 399.6 L443.3 407.6 L444.3 392.1 L445.2 399.4 L446.2 396.6 L447.1 405.9 L448.1 407.0 L449.0 403.2 L450.0 408.1 L450.9 414.9 L451.9 397.5 L452.8 405.2 L453.8 409.0 L454.7 409.0 L455.7 401.5 L456.6 413.6 L457.6 402.4 L458.5 413.8 L459.5 407.7 L460.4 400.0 L461.4 413.4 L462.3 399.8 L463.3 413.1 L464.2 411.1 L465.2 416.8 L466.1 416.3 L467.1 407.8 L468.0 401.1 L469.0 403.0 L469.9 397.3 L470.9 409.7 L471.8 399.1 L472.8 399.0 L473.7 399.8 L474.7 402.9 L475.6 408.8 L476.6 404.1 L477.5 404.1 L478.5 394.9 L479.4 398.2 L480.4 395.6 L481.3 406.3 L482.3 392.5 L483.2 402.9 L484.2 406.0 L485.1 402.2 L486.1 391.7 L487.0 394.4 L488.0 394.3 L488.9 394.8 L489.9 394.6 L490.8 409.4 L491.8 407.6 L492.7 409.3 L493.7 405.6 L494.6 397.2 L495.6 408.3 L496.5 400.2 L497.5 392.4 L498.4 402.7 L499.4 394.1 L500.3 404.6 L501.3 404.2 L502.2 394.2 L503.2 395.8 L504.1 400.9 L505.1 400.2 L506.0 396.6 L507.0 388.9 L507.9 389.6 L508.9 397.0 L509.8 392.6 L510.8 397.0 L511.7 396.4 L512.7 388.9 L513.6 381.9 L514.6 392.8 L515.5 386.9 L516.5 389.7 L517.4 380.1 L518.4 378.4 L519.3 383.3 L520.3 388.5 L521.2 376.8 L522.2 388.3 L523.1 390.9 L524.1 386.8 L525.0 387.1 L526.0 375.7 L526.9 370.3 L527.9 373.7 L528.8 369.2 L529.8 374.0 L530.7 381.6 L531.7 372.2 L532.6 382.6 L533.6 375.3 L534.5 368.0 L535.5 377.1 L536.4 374.3 L537.4 371.6 L538.3 375.2 L539.3 385.9 L540.2 368.7 L541.2 355.0 L542.1 369.7 L543.1 370.9 L544.0 373.9 L545.0 374.0 L545.9 387.3 L546.9 368.9 L547.8 380.1 L548.8 379.2 L549.7 371.9 L550.7 381.4 L551.6 386.7 L552.6 386.9 L553.5 372.3 L554.5 385.3 L555.4 377.8 L556.4 387.4 L557.3 382.7 L558.3 371.8 L559.2 384.3 L560.2 382.3 L561.1 379.7 L562.1 383.2 L563.0 379.7 L564.0 370.0 L564.9 386.6 L565.9 375.4 L566.8 373.1 L567.8 367.4 L568.7 380.3 L569.7 372.4 L570.6 359.0 L571.6 370.7 L572.5 372.4 L573.5 371.7 L574.4 369.2 L575.4 368.7 L576.3 374.2 L577.3 369.9 L578.2 363.6 L579.2 375.8 L580.1 369.4 L581.1 370.1 L582.0 365.7 L583.0 362.0 L583.9 374.1 L584.9 371.1 L585.8 382.0 L586.8 364.8 L587.7 379.8 L588.7 365.5 L589.6 367.2 L590.6 364.6 L591.5 375.2 L592.5 374.0 L593.4 373.6 L594.4 388.0 L595.3 382.2 L596.3 389.1 L597.2 389.7 L598.2 378.5 L599.1 383.8 L600.1 375.2 L601.0 377.7 L602.0 385.0 L602.9 383.8 L603.9 373.5 L604.8 372.0 L605.8 386.6 L606.7 387.7 L607.7 387.2 L608.6 378.6 L609.6 389.7 L610.5 387.5 L611.5 378.6 L612.4 378.1 L613.4 388.2 L614.3 397.8 L615.3 391.4 L616.2 384.7 L617.2 393.1 L618.1 383.8 L619.1 392.0 L620.0 388.8 L621.0 380.5 L621.9 389.9 L622.9 391.4 L623.8 400.5 L624.8 398.0 L625.7 389.3 L626.7 395.5 L627.6 388.4 L628.6 396.3 L629.5 396.7 L630.5 397.3 L631.4 388.1 L632.4 398.7 L633.3 397.0 L634.3 401.4 L635.2 387.6 L636.2 400.5 L637.1 407.3 L638.1 401.0 L639.0 390.9 L640.0 406.3 L640.9 401.2 L641.9 394.8 L642.8 401.5 L643.8 407.8 L644.7 393.2 L645.7 400.9 L646.6 403.9 L647.6 410.9 L648.5 393.5 L649.5 401.2 L650.4 407.4 L651.4 407.1 L652.3 411.7 L653.3 408.3 L654.2 407.6 L655.2 407.4 L656.1 398.2 L657.1 411.8 L658.0 407.0 L659.0 396.1 L659.9 411.7 L660.9 411.2 L661.8 410.5 L662.8 397.6 L663.7 409.5 L664.7 403.5 L665.6 412.7 L666.6 400.1 L667.5 402.1 L668.5 397.4 L669.4 395.0 L670.4 401.1 L671.3 409.9 L672.3 405.1 L673.2 401.7 L674.2 414.5 L675.1 411.9 L676.1 416.5 L677.0 402.9 L678.0 398.4 L678.9 414.0 L679.9 397.3 L680.8 409.7 L681.8 414.8 L682.7 410.5 L683.7 406.7 L684.6 401.6 L685.6 399.1 L686.5 393.8 L687.5 399.4 L688.4 402.7 L689.4 397.7 L690.3 412.0 L691.3 414.6 L692.2 399.9 L693.2 404.2 L694.1 410.7 L695.1 405.3 L696.0 399.5 L697.0 409.1 L697.9 403.7 L698.9 404.8 L699.8 407.8 L700.8 398.2 L701.7 405.2 L702.7 386.4 L703.6 378.5 L704.6 366.1 L705.5 392.4 L706.5 400.4 L707.4 413.7 L708.4 400.4 L709.3 410.1 L710.3 414.6 L711.2 415.7 L712.2 408.6 L713.1 408.3 L714.1 403.0 L715.0 414.2 L716.0 414.1 L716.9 408.9 L717.9 408.0 L718.8 416.9 L719.8 410.7 L720.7 400.1 L721.7 398.9 L722.6 412.4 L723.6 409.1 L724.5 409.1 L725.5 406.3 L726.4 396.9 L727.4 411.9 L728.3 405.0 L729.3 405.5 L730.2 404.9 L731.2 398.1 L732.1 414.5 L733.1 416.7 L734.0 396.7 L735.0 394.4 L735.9 400.9 L736.9 414.3 L737.8 405.5 L738.8 413.4 L739.7 402.7 L740.7 404.7 L741.6 412.4 L742.6 410.3 L743.5 402.9 L744.5 405.3 L745.4 409.6 L746.4 405.8 L747.3 401.3 L748.3 401.6 L749.2 412.9 L750.2 403.7 L751.1 402.2 L752.1 404.4 L753.0 420.0 L754.0 422.7 L754.9 412.4 L755.9 405.5 L756.8 409.4 L757.8 419.5 L758.7 414.7 L759.7 420.9 L760.6 421.6 L761.6 420.5 L762.5 422.0 L763.5 414.5 L764.4 406.2 L765.4 418.0 L766.3 424.4 L767.3 418.4 L768.2 408.8 L769.2 421.9 L770.1 423.9 L771.1 424.3 L772.0 418.9 L773.0 424.0 L773.9 409.9 L774.9 415.1 L775.8 424.9 L776.8 426.4 L777.7 422.7 L778.7 417.6 L779.6 417.8 L780.6 413.0 L781.5 408.7 L782.5 422.5 L783.4 418.0 L784.4 412.6 L785.3 411.3 L786.3 407.9 L787.2 407.6 L788.2 417.8 L789.1 411.3 L790.1 410.9 L791.0 422.1 L792.0 407.8 L792.9 423.8 L793.9 414.9 L794.8 422.3 L795.8 423.4 L796.7 420.5 L797.7 406.8 L798.6 417.5 L799.6 414.7 L800.5 411.4 L801.5 415.3 L802.4 419.0 L803.4 413.7 L804.3 413.3 L805.3 409.2 L806.2 407.5 L807.2 417.0 L808.1 425.8 L809.1 408.6 L810.0 417.9 L811.0 418.0 L811.9 421.2 L812.9 412.6 L813.8 410.1 L814.8 410.3 L815.7 422.0 L816.7 424.0 L817.6 423.5 L818.6 412.1 L819.5 412.5 L820.5 410.7 L821.4 418.9 L822.4 410.5 L823.3 420.1 L824.3 422.6 L825.2 417.4 L826.2 409.1 L827.1 409.7 L828.1 416.2 L829.0 420.8 L830.0 410.1 L830.9 418.0 L831.9 424.7 L832.8 422.0 L833.8 424.9 L834.7 426.9 L835.7 412.7 L836.6 409.1 L837.6 423.3 L838.5 414.6 L839.5 407.3 L840.4 417.2 L841.4 415.6 L842.3 409.3 L843.3 423.7 L844.2 416.6 L845.2 426.4 L846.1 412.8 L847.1 406.1 L848.0 423.0 L849.0 412.6 L849.9 424.4 L850.9 416.8 L851.8 419.8 L852.8 407.8 L853.7 408.8 L854.7 417.5 L855.6 424.3 L856.6 422.3 L857.5 423.5 L858.5 420.6 L859.4 424.1 L860.4 408.8 L861.3 403.8 L862.3 405.3 L863.2 412.4 L864.2 408.8 L865.1 400.9" stroke="#a5a5a5" stroke-width="3.0" fill="none" stroke-linejoin="round" stroke-linecap="round"/>
<path d="M63.2 220.2 L63.7 227.8 L64.2 236.8 L64.7 244.9 L65.2 253.5 L65.7 262.5 L66.2 271.5 L66.7 281.3 L67.2 290.0 L67.7 299.1 L68.2 300.6 L68.7 289.3 L69.2 277.4 L69.7 266.7 L70.2 255.6 L70.7 246.9 L71.2 237.5 L71.7 227.3 L72.2 218.2 L72.7 207.3 L73.2 198.2 L73.7 194.8 L74.2 202.8 L74.7 209.8 L75.2 217.3 L75.7 225.6 L76.2 232.8 L76.7 240.7 L77.2 249.0 L77.7 257.5 L78.2 265.9 L78.7 273.7 L79.2 282.5 L79.7 277.5 L80.2 269.3 L80.7 261.0 L81.2 253.5 L81.7 245.1 L82.2 232.1 L82.7 214.6 L83.2 196.9 L83.7 177.8 L84.2 160.0 L84.7 140.8 L85.2 126.3 L85.7 116.6 L86.2 107.1 L86.7 98.2 L87.2 88.4 L87.7 93.3 L88.2 105.8 L88.7 118.1 L89.2 131.7 L89.7 149.1 L90.2 169.7 L90.7 190.1 L91.2 211.7 L91.7 226.8 L92.2 235.1 L92.7 242.0 L93.2 241.0 L93.7 229.0 L94.2 217.5 L94.7 205.3 L95.2 194.9 L95.7 184.8 L96.2 174.1 L96.7 165.9 L97.2 171.5 L97.7 174.7 L98.2 178.7 L98.7 182.3 L99.2 186.2 L99.7 190.5 L100.2 195.6 L100.7 199.7 L101.2 203.2 L101.7 206.6 L102.2 211.0 L102.7 211.8 L103.2 213.9 L103.7 214.5 L104.2 217.1 L104.7 218.3 L105.2 220.0 L105.7 220.4 L106.2 219.0 L106.7 218.2 L107.2 217.8 L107.7 215.1 L108.2 214.0 L108.7 212.2 L109.2 212.1 L109.7 210.8 L110.2 208.6 L110.7 207.5 L111.2 206.7 L111.7 205.5 L112.2 202.7 L112.7 201.4 L113.2 198.8 L113.7 195.0 L114.2 193.7 L114.7 191.1 L115.2 188.7 L115.7 186.3 L116.2 184.2 L116.7 184.1 L117.2 182.2 L117.7 180.2 L118.2 178.6 L118.7 178.4 L119.2 176.2 L119.7 174.9 L120.2 173.6 L120.7 172.7 L121.2 170.9 L121.7 167.9 L122.2 165.6 L122.7 162.5 L123.2 159.6 L123.7 156.9 L124.2 153.0 L124.7 149.7 L125.2 146.5 L125.7 143.8 L126.2 140.2 L126.7 138.2 L127.2 134.5 L127.7 131.0 L128.2 127.6 L128.7 124.7 L129.2 123.5 L129.7 125.5 L130.2 127.8 L130.7 129.9 L131.2 132.7 L131.7 135.5 L132.2 136.0 L132.7 138.5 L133.2 141.7 L133.7 143.3 L134.2 147.0 L134.7 148.8 L135.2 153.0 L135.7 156.3 L136.2 159.9 L136.7 161.6 L137.2 164.0 L137.7 165.5 L138.2 164.9 L138.7 165.1 L139.2 166.3 L139.7 167.4 L140.2 166.8 L140.7 167.2 L141.2 167.7 L141.7 167.6 L142.2 166.6 L142.7 164.0 L143.2 163.7 L143.7 161.3 L144.2 159.9 L144.7 157.5 L145.2 158.6 L145.7 160.4 L146.2 160.5 L146.7 160.8 L147.2 162.2 L147.7 163.3 L148.2 164.5 L148.7 165.5 L149.2 165.1 L149.7 164.5 L150.2 164.3 L150.7 164.2 L151.2 163.6 L151.7 162.8 L152.2 161.4 L152.7 161.5 L153.2 159.5 L153.7 160.4 L154.2 162.9 L154.7 165.0 L155.2 165.9 L155.7 168.6 L156.2 169.6 L156.7 171.9 L157.2 172.3 L157.7 173.9 L158.2 177.7 L158.7 177.9 L159.2 180.2 L159.7 180.9 L160.2 181.9 L160.7 183.6 L161.2 186.2 L161.7 186.9 L162.2 188.9 L162.7 189.9 L163.2 190.7 L163.7 192.0 L164.2 190.6 L164.7 188.9 L165.2 188.5 L165.7 187.8 L166.2 187.4 L166.7 185.9 L167.2 185.1 L167.7 184.2 L168.2 183.1 L168.7 181.6 L169.2 178.9 L169.7 178.3 L170.2 177.1 L170.7 177.7 L171.2 176.8 L171.7 174.9 L172.2 174.3 L172.7 174.0 L173.2 173.3 L173.7 170.9 L174.2 171.1 L174.7 172.3 L175.2 171.4 L175.7 172.2 L176.2 173.9 L176.7 174.4 L177.2 176.8 L177.7 177.6 L178.2 178.4 L178.7 179.5 L179.2 179.3 L179.7 180.5 L180.2 183.4 L180.7 185.1 L181.2 188.3 L181.7 189.8 L182.2 191.1 L182.7 194.2 L183.2 195.2 L183.7 196.6 L184.2 200.8 L184.7 203.0 L185.2 205.2 L185.7 209.1 L186.2 213.3 L186.7 213.4 L187.2 218.9 L187.7 225.3 L188.2 227.8 L188.7 237.3 L189.2 238.9 L189.7 239.6 L190.0 244.3 L190.7 247.6 L191.4 251.0 L192.1 254.4 L192.8 260.3 L193.5 265.6 L194.2 270.5 L194.9 267.6 L195.6 268.5 L196.3 257.1 L197.0 251.1 L197.7 254.8 L198.4 255.6 L199.1 255.2 L199.8 250.2 L200.5 246.1 L201.2 245.1 L201.9 252.7 L202.6 252.8 L203.3 258.9 L204.0 263.2 L204.7 268.7 L205.4 266.6 L206.1 275.9 L206.8 280.2 L207.5 281.8 L208.2 283.5 L208.9 287.0 L209.6 291.8 L210.3 296.1 L211.0 298.5 L211.7 299.4 L212.4 296.0 L213.1 302.9 L213.8 302.6 L214.5 302.2 L215.2 311.6 L215.9 311.9 L216.6 305.9 L217.3 301.9 L218.0 299.2 L218.7 293.9 L219.4 292.2 L220.1 289.7 L220.8 281.3 L221.5 286.4 L222.2 274.4 L222.9 273.1 L223.6 266.5 L224.3 262.6 L225.0 271.5 L225.7 259.1 L226.0 265.2 L226.6 249.8 L227.2 266.4 L227.9 242.0 L228.5 277.6 L229.1 245.1 L229.7 269.8 L230.3 250.5 L231.0 271.9 L231.6 250.5 L232.2 266.7 L232.8 256.1 L233.4 275.3 L234.1 247.8 L234.7 279.6 L235.3 249.7 L235.9 273.8 L236.5 259.4 L237.2 267.2 L237.8 259.1 L238.4 277.0 L239.0 258.0 L239.6 273.2 L240.3 260.3 L240.9 270.9 L241.5 258.1 L242.1 276.9 L242.7 250.9 L243.4 270.4 L244.0 260.3 L244.6 283.3 L245.2 253.5 L245.8 283.1 L246.5 258.6 L247.1 273.4 L247.7 263.3 L248.3 281.8 L248.9 254.9 L249.6 279.7 L250.2 258.6 L250.8 283.7 L251.4 264.4 L252.0 280.0 L252.7 261.3 L253.3 285.0 L253.9 264.8 L254.5 275.1 L255.1 267.9 L255.8 277.4 L256.4 268.9 L257.0 278.2 L257.6 262.6 L258.2 276.5 L258.9 261.5 L259.5 260.8 L260.0 265.1 L260.9 266.7 L261.9 259.7 L262.8 256.3 L263.8 261.5 L264.7 248.4 L265.7 256.7 L266.6 250.9 L267.6 252.6 L268.5 253.3 L269.5 242.7 L270.4 253.4 L271.4 252.8 L272.3 244.6 L273.3 239.8 L274.2 236.4 L275.2 239.4 L276.1 245.9 L277.1 247.9 L278.0 239.7 L279.0 236.2 L279.9 236.8 L280.9 246.8 L281.8 233.4 L282.8 231.9 L283.7 239.9 L284.7 231.3 L285.6 231.6 L286.6 239.9 L287.5 232.2 L288.5 235.3 L289.4 234.6 L290.4 228.7 L291.3 226.8 L292.3 226.4 L293.2 235.5 L294.2 222.3 L295.1 221.2 L296.1 224.8 L297.0 223.0 L298.0 229.1 L298.9 231.2 L299.9 232.2 L300.8 230.5 L301.8 235.1 L302.7 241.8 L303.7 244.7 L304.6 241.8 L305.6 246.7 L306.5 234.8 L307.5 235.4 L308.4 245.9 L309.4 241.8 L310.3 240.4 L311.3 244.9 L312.2 242.7 L313.2 251.8 L314.1 245.2 L315.1 252.8 L316.0 251.0 L317.0 257.0 L317.9 251.6 L318.9 259.8 L319.8 255.6 L320.8 246.6 L321.7 258.4 L322.7 263.1 L323.6 251.5 L324.6 265.2 L325.5 261.2 L326.5 264.4 L327.4 256.8 L328.4 268.6 L329.3 266.1 L330.3 264.7 L331.2 272.0 L332.2 265.9 L333.1 264.4 L334.1 255.5 L335.0 262.7 L336.0 267.0 L336.9 260.9 L337.9 265.2 L338.8 263.7 L339.8 257.3 L340.7 263.0 L341.7 263.1 L342.6 261.3 L343.6 267.3 L344.5 258.1 L345.5 262.8 L346.4 265.2 L347.4 275.7 L348.3 273.2 L349.3 273.4 L350.2 266.6 L351.2 272.2 L352.1 273.5 L353.1 286.2 L354.0 281.9 L355.0 290.9 L355.9 291.1 L356.9 297.7 L357.8 285.8 L358.8 303.5 L359.7 309.5 L360.7 298.7 L361.6 298.3 L362.6 305.7 L363.5 314.6 L364.5 317.7 L365.4 319.3 L366.4 330.7 L367.3 328.4 L368.3 337.2 L369.2 334.1 L370.2 328.1 L371.1 343.8 L372.1 348.1 L373.0 339.8 L374.0 346.1 L374.9 345.1 L375.9 336.9 L376.8 343.9 L377.8 347.0 L378.7 347.0 L379.7 346.5 L380.6 348.1 L381.6 351.3 L382.5 353.6 L383.5 341.2 L384.4 356.8 L385.4 350.8 L386.3 355.9 L387.3 351.4 L388.2 344.8 L389.2 357.3 L390.1 354.0 L391.1 358.3 L392.0 354.1 L393.0 353.1 L393.9 355.8 L394.9 368.7 L395.8 373.5 L396.8 376.5 L397.7 366.3 L398.7 373.4 L399.6 362.8 L400.6 374.6 L401.5 370.7 L402.5 380.1 L403.4 368.9 L404.4 381.5 L405.3 368.6 L406.3 384.0 L407.2 378.4 L408.2 372.5 L409.1 376.1 L410.1 386.2 L411.0 383.1 L412.0 379.1 L412.9 379.6 L413.9 390.3 L414.8 391.9 L415.8 380.6 L416.7 395.4 L417.7 384.0 L418.6 385.1 L419.6 381.1 L420.5 391.5 L421.5 401.1 L422.4 404.8 L423.4 396.1 L424.3 387.8 L425.3 395.1 L426.2 392.9 L427.2 393.3 L428.1 392.2 L429.1 407.5 L430.0 398.3 L431.0 388.9 L431.9 398.2 L432.9 404.3 L433.8 408.0 L434.8 407.6 L435.7 406.7 L436.7 396.3 L437.6 398.2 L438.6 401.2 L439.5 395.1 L440.5 400.6 L441.4 394.9 L442.4 394.0 L443.3 410.1 L444.3 398.7 L445.2 403.7 L446.2 408.0 L447.1 415.6 L448.1 403.7 L449.0 399.6 L450.0 414.0 L450.9 404.3 L451.9 402.7 L452.8 400.0 L453.8 406.2 L454.7 402.9 L455.7 405.5 L456.6 405.6 L457.6 412.2 L458.5 409.7 L459.5 414.3 L460.4 407.2 L461.4 406.8 L462.3 421.2 L463.3 407.4 L464.2 416.6 L465.2 416.8 L466.1 415.9 L467.1 404.8 L468.0 400.9 L469.0 416.1 L469.9 404.0 L470.9 405.0 L471.8 420.5 L472.8 421.9 L473.7 420.6 L474.7 412.8 L475.6 408.5 L476.6 407.4 L477.5 404.2 L478.5 416.5 L479.4 414.7 L480.4 417.8 L481.3 403.5 L482.3 407.1 L483.2 409.6 L484.2 403.5 L485.1 406.7 L486.1 398.8 L487.0 399.9 L488.0 396.1 L488.9 406.2 L489.9 401.0 L490.8 401.9 L491.8 401.0 L492.7 393.8 L493.7 410.4 L494.6 409.2 L495.6 400.3 L496.5 411.0 L497.5 407.7 L498.4 413.7 L499.4 403.3 L500.3 394.1 L501.3 392.8 L502.2 405.4 L503.2 403.3 L504.1 394.8 L505.1 400.0 L506.0 399.9 L507.0 406.4 L507.9 389.8 L508.9 388.1 L509.8 394.3 L510.8 388.3 L511.7 404.9 L512.7 390.2 L513.6 396.6 L514.6 393.4 L515.5 399.7 L516.5 384.7 L517.4 387.9 L518.4 391.0 L519.3 383.5 L520.3 393.2 L521.2 392.0 L522.2 397.6 L523.1 389.9 L524.1 385.2 L525.0 384.6 L526.0 382.4 L526.9 396.5 L527.9 395.4 L528.8 385.2 L529.8 385.6 L530.7 377.8 L531.7 386.7 L532.6 390.6 L533.6 380.2 L534.5 383.0 L535.5 388.5 L536.4 384.4 L537.4 386.1 L538.3 378.9 L539.3 390.6 L540.2 377.9 L541.2 383.6 L542.1 380.9 L543.1 376.9 L544.0 392.6 L545.0 381.3 L545.9 385.7 L546.9 389.7 L547.8 383.4 L548.8 387.2 L549.7 389.2 L550.7 388.0 L551.6 386.4 L552.6 384.1 L553.5 397.5 L554.5 391.1 L555.4 394.2 L556.4 391.1 L557.3 385.4 L558.3 388.6 L559.2 396.4 L560.2 398.7 L561.1 400.4 L562.1 385.3 L563.0 385.8 L564.0 380.5 L564.9 397.6 L565.9 392.2 L566.8 392.4 L567.8 386.2 L568.7 380.8 L569.7 382.6 L570.6 380.3 L571.6 384.6 L572.5 390.8 L573.5 391.6 L574.4 379.8 L575.4 375.4 L576.3 386.0 L577.3 380.7 L578.2 374.6 L579.2 382.4 L580.1 372.8 L581.1 370.7 L582.0 368.3 L583.0 371.7 L583.9 377.7 L584.9 371.7 L585.8 369.2 L586.8 378.1 L587.7 388.5 L588.7 371.5 L589.6 373.9 L590.6 388.8 L591.5 385.7 L592.5 389.7 L593.4 392.3 L594.4 378.4 L595.3 387.7 L596.3 379.1 L597.2 392.3 L598.2 394.8 L599.1 378.5 L600.1 390.0 L601.0 375.7 L602.0 385.4 L602.9 384.5 L603.9 387.0 L604.8 391.0 L605.8 394.0 L606.7 387.1 L607.7 377.5 L608.6 394.3 L609.6 379.3 L610.5 393.0 L611.5 381.3 L612.4 396.6 L613.4 393.7 L614.3 386.9 L615.3 398.1 L616.2 385.8 L617.2 385.1 L618.1 387.6 L619.1 390.2 L620.0 386.8 L621.0 401.4 L621.9 393.8 L622.9 403.8 L623.8 390.8 L624.8 393.8 L625.7 401.6 L626.7 407.1 L627.6 396.8 L628.6 396.0 L629.5 406.2 L630.5 397.2 L631.4 396.4 L632.4 407.5 L633.3 399.8 L634.3 391.1 L635.2 407.4 L636.2 400.8 L637.1 397.2 L638.1 408.4 L639.0 391.7 L640.0 409.2 L640.9 394.0 L641.9 391.7 L642.8 410.1 L643.8 403.3 L644.7 396.3 L645.7 412.6 L646.6 401.6 L647.6 413.2 L648.5 405.0 L649.5 402.2 L650.4 406.4 L651.4 414.5 L652.3 417.5 L653.3 412.2 L654.2 404.8 L655.2 414.5 L656.1 417.6 L657.1 410.3 L658.0 413.1 L659.0 417.2 L659.9 414.2 L660.9 413.0 L661.8 407.1 L662.8 410.8 L663.7 403.8 L664.7 400.2 L665.6 402.6 L666.6 406.9 L667.5 405.4 L668.5 412.7 L669.4 407.1 L670.4 408.8 L671.3 404.5 L672.3 399.4 L673.2 411.7 L674.2 403.0 L675.1 406.7 L676.1 409.8 L677.0 411.8 L678.0 406.5 L678.9 402.6 L679.9 414.9 L680.8 411.3 L681.8 402.3 L682.7 411.7 L683.7 408.1 L684.6 404.9 L685.6 397.4 L686.5 398.8 L687.5 396.4 L688.4 408.4 L689.4 411.1 L690.3 404.7 L691.3 395.5 L692.2 396.4 L693.2 412.9 L694.1 414.2 L695.1 403.8 L696.0 396.8 L697.0 402.1 L697.9 402.6 L698.9 393.8 L699.8 407.3 L700.8 407.9 L701.7 406.4 L702.7 399.9 L703.6 386.0 L704.6 368.2 L705.5 379.2 L706.5 400.7 L707.4 414.0 L708.4 415.0 L709.3 404.4 L710.3 413.0 L711.2 410.9 L712.2 404.6 L713.1 413.1 L714.1 405.3 L715.0 405.5 L716.0 402.7 L716.9 409.9 L717.9 408.8 L718.8 412.7 L719.8 400.2 L720.7 406.9 L721.7 400.2 L722.6 404.6 L723.6 400.4 L724.5 409.3 L725.5 418.4 L726.4 418.1 L727.4 410.2 L728.3 405.7 L729.3 397.6 L730.2 409.7 L731.2 404.5 L732.1 405.0 L733.1 409.8 L734.0 401.0 L735.0 407.5 L735.9 405.9 L736.9 403.9 L737.8 413.2 L738.8 412.1 L739.7 400.3 L740.7 414.8 L741.6 398.0 L742.6 401.0 L743.5 399.5 L744.5 404.0 L745.4 400.9 L746.4 403.6 L747.3 406.9 L748.3 409.3 L749.2 405.7 L750.2 401.2 L751.1 410.9 L752.1 414.7 L753.0 416.0 L754.0 403.3 L754.9 403.1 L755.9 415.2 L756.8 405.2 L757.8 403.1 L758.7 411.1 L759.7 410.6 L760.6 417.2 L761.6 404.9 L762.5 407.2 L763.5 408.9 L764.4 410.2 L765.4 403.8 L766.3 414.4 L767.3 404.7 L768.2 409.4 L769.2 423.1 L770.1 409.3 L771.1 417.5 L772.0 414.9 L773.0 424.6 L773.9 415.8 L774.9 409.6 L775.8 425.5 L776.8 422.2 L777.7 409.2 L778.7 415.8 L779.6 412.2 L780.6 423.9 L781.5 410.5 L782.5 418.8 L783.4 426.7 L784.4 427.0 L785.3 426.9 L786.3 422.0 L787.2 413.6 L788.2 407.5 L789.1 408.6 L790.1 424.1 L791.0 422.5 L792.0 409.4 L792.9 425.9 L793.9 418.5 L794.8 410.3 L795.8 415.6 L796.7 414.6 L797.7 410.6 L798.6 418.9 L799.6 417.8 L800.5 412.3 L801.5 422.7 L802.4 418.7 L803.4 413.9 L804.3 409.3 L805.3 415.8 L806.2 409.5 L807.2 424.7 L808.1 418.0 L809.1 425.9 L810.0 414.5 L811.0 415.8 L811.9 417.3 L812.9 425.5 L813.8 410.4 L814.8 413.9 L815.7 407.7 L816.7 424.4 L817.6 424.8 L818.6 416.1 L819.5 420.4 L820.5 418.4 L821.4 419.6 L822.4 424.8 L823.3 428.5 L824.3 409.8 L825.2 417.4 L826.2 425.6 L827.1 416.1 L828.1 411.7 L829.0 408.4 L830.0 418.4 L830.9 411.1 L831.9 413.5 L832.8 414.4 L833.8 419.2 L834.7 427.0 L835.7 428.8 L836.6 414.5 L837.6 411.6 L838.5 420.9 L839.5 421.6 L840.4 412.8 L841.4 425.8 L842.3 424.7 L843.3 411.8 L844.2 416.1 L845.2 408.2 L846.1 416.2 L847.1 418.4 L848.0 410.5 L849.0 407.0 L849.9 408.7 L850.9 415.5 L851.8 407.0 L852.8 408.0 L853.7 408.3 L854.7 413.0 L855.6 415.7 L856.6 412.3 L857.5 417.4 L858.5 423.9 L859.4 409.8 L860.4 423.5 L861.3 411.4 L862.3 414.9 L863.2 410.0 L864.2 415.9 L865.1 420.1" stroke="#ffc000" stroke-width="3.3" fill="none" stroke-linejoin="round" stroke-linecap="round"/>
<rect x="503" y="82" width="259" height="154" fill="#fff"/>
<rect x="119" y="329.5" width="184" height="134" fill="#fff"/>
<rect x="568.1" y="85.7" width="239.7" height="42.8" fill="#fff" stroke="#0b6fc0" stroke-width="4.8"/>
<rect x="151.2" y="333" width="169.6" height="39.6" fill="#fff" stroke="#0b6fc0" stroke-width="4.7"/>
<path d="M540.0 109.8H566.0" stroke="#5b9bd5" stroke-width="2.6"/>
<path d="M540.0 146.8H565.3" stroke="#ed7d31" stroke-width="2.6"/>
<path d="M540.0 182.8H565.3" stroke="#a5a5a5" stroke-width="2.6"/>
<path d="M540.0 218.9H565.3" stroke="#ffc000" stroke-width="2.6"/>
<path d="M129.0 353.6H149.0" stroke="#5b9bd5" stroke-width="2.6"/>
<path d="M129.0 385.0H150.5" stroke="#ed7d31" stroke-width="2.6"/>
<path d="M129.0 415.7H150.5" stroke="#a5a5a5" stroke-width="2.6"/>
<path d="M129.0 447.0H150.5" stroke="#ffc000" stroke-width="2.6"/>
<path d="M124.6 30.0H129.8V87.0H134.3L127.2 100.0L120.1 87.0H124.6Z" fill="#f00000"/>
<path d="M147.9 46.0H153.1V103.5H157.6L150.5 116.5L143.4 103.5H147.9Z" fill="#f00000"/>
<path d="M171.9 61.0H177.1V119.0H181.6L174.5 132.0L167.4 119.0H171.9Z" fill="#f00000"/>
<path d="M242.7 127.0H247.9V186.0H252.4L245.3 199.0L238.2 186.0H242.7Z" fill="#f00000"/>
<path d="M301.8 117.0H307.0V175.3H311.5L304.4 188.3L297.3 175.3H301.8Z" fill="#f00000"/>
<path d="M564.6 246.0H569.8V303.5H574.3L567.2 316.5L560.1 303.5H564.6Z" fill="#f00000"/>
<path d="M656.0 283.0H661.2V339.0H665.7L658.6 352.0L651.5 339.0H656.0Z" fill="#f00000"/>
<path d="M753.4 297.0H758.6V355.5H763.1L756.0 368.5L748.9 355.5H753.4Z" fill="#f00000"/>
<path d="M820.4 81.0H825.6V124.0H830.1L823.0 137.0L815.9 124.0H820.4Z" fill="#f00000"/>
</svg>
<div class="t" style="left:262px;width:400px;text-align:center;top:22.3px;font-size:20px;">NOISE SPECTRUM</div>
<div class="t yl" style="top:48.5px;">80</div>
<div class="t yl" style="top:90.6px;">75</div>
<div class="t yl" style="top:132.7px;">70</div>
<div class="t yl" style="top:174.8px;">65</div>
<div class="t yl" style="top:216.9px;">60</div>
<div class="t yl" style="top:259.0px;">55</div>
<div class="t yl" style="top:301.0px;">50</div>
<div class="t yl" style="top:343.1px;">45</div>
<div class="t yl" style="top:385.2px;">40</div>
<div class="t yl" style="top:427.3px;">35</div>
<div class="t yl" style="top:469.4px;">30</div>
<div class="t xl" style="left:23.4px;">1.50E+05</div>
<div class="t xl" style="left:157.8px;">5.15E+06</div>
<div class="t xl" style="left:292.3px;">1.02E+07</div>
<div class="t xl" style="left:426.7px;">1.52E+07</div>
<div class="t xl" style="left:561.2px;">2.02E+07</div>
<div class="t xl" style="left:695.6px;">2.52E+07</div>
<div class="t" style="left:365px;width:200px;text-align:center;top:506px;font-size:13px;">Frequency (Hz)</div>
<div class="t" style="left:-22px;top:258px;width:100px;text-align:center;font-size:12.5px;transform:rotate(-90deg);transform-origin:50% 50%;">Noise (dBµV)</div>
<div class="t" style="left:578.5px;top:92.2px;font-size:29.3px;color:#000;-webkit-text-stroke:0.35px #000;">Improve PSRR</div>
<div class="t lg1" style="top:137.3px;letter-spacing:-0.69px;">15ETH06FP</div>
<div class="t lg1" style="top:173.3px;letter-spacing:0.22px;">G4-H-20A-600V</div>
<div class="t lg1" style="top:209.7px;letter-spacing:0.22px;">G4-U-20A-600V</div>
<div class="t" style="left:160.9px;top:345.9px;font-size:15.9px;color:#000;">Hyperfast reference</div>
<div class="t lg2" style="top:377px;letter-spacing:-0.54px;">15ETH06FP</div>
<div class="t lg2" style="top:407.8px;letter-spacing:0.13px;">G4-H-20A-600V</div>
<div class="t lg2" style="top:439.3px;letter-spacing:0.13px;">G4-U-20A-600V</div>
</body></html>
